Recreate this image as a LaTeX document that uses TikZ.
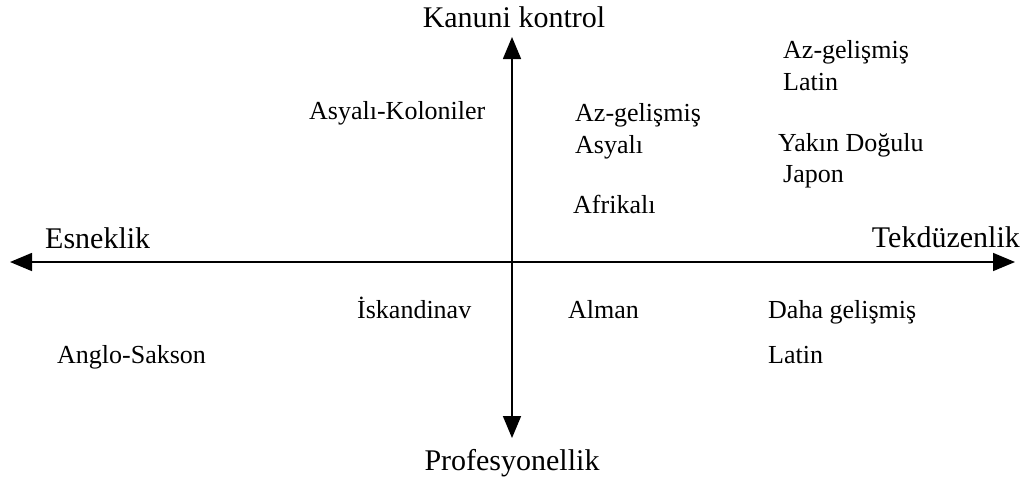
\documentclass[tikz,border=0pt]{standalone}
\usepackage{fontspec}
\setmainfont{Liberation Serif}
\usetikzlibrary{arrows.meta}

\begin{document}
\begin{tikzpicture}[
    x=1pt,y=-1pt,
    >={Triangle[length=22pt,width=18pt]},
    axis/.style={line width=1.6pt,<->},
    pole/.style={inner sep=0pt,font=\fontsize{30}{35}\selectfont},
    group/.style={inner sep=0pt,anchor=base west,font=\fontsize{26}{31}\selectfont}]
\useasboundingbox (0,0) rectangle (1025,483);
% axes
\coordinate (west) at (10,262);
\coordinate (east) at (1015,262);
\coordinate (north) at (512,37);
\coordinate (south) at (512,438);
\draw[axis] (west) -- (east);
\draw[axis] (north) -- (south);
% axis names
\node[pole,anchor=base] (kanuni) at (514,27) {Kanuni kontrol};
\node[pole,anchor=base] (profes) at (512,470) {Profesyonellik};
\node[pole,anchor=base west] (esnek) at (45,248) {Esneklik};
\node[pole,anchor=base east] (tekduz) at (1020,247) {Tekdüzenlik};
% groups
\node[group] (kolon) at (309,119) {Asyalı-Koloniler};
\node[group] (azasya1) at (575,121) {Az-gelişmiş};
\node[group] (azasya2) at (575,153) {Asyalı};
\node[group] (afrika) at (573,213) {Afrikalı};
\node[group] (azlatin1) at (783,58) {Az-gelişmiş};
\node[group] (azlatin2) at (783,90) {Latin};
\node[group] (yakin) at (778,151) {Yakın Doğulu};
\node[group] (japon) at (783,182) {Japon};
\node[group] (iskan) at (357,318) {İskandinav};
\node[group] (alman) at (568,318) {Alman};
\node[group] (daha1) at (768,318) {Daha gelişmiş};
\node[group] (daha2) at (768,363) {Latin};
\node[group] (anglo) at (57,363) {Anglo-Sakson};
\end{tikzpicture}
\end{document}
